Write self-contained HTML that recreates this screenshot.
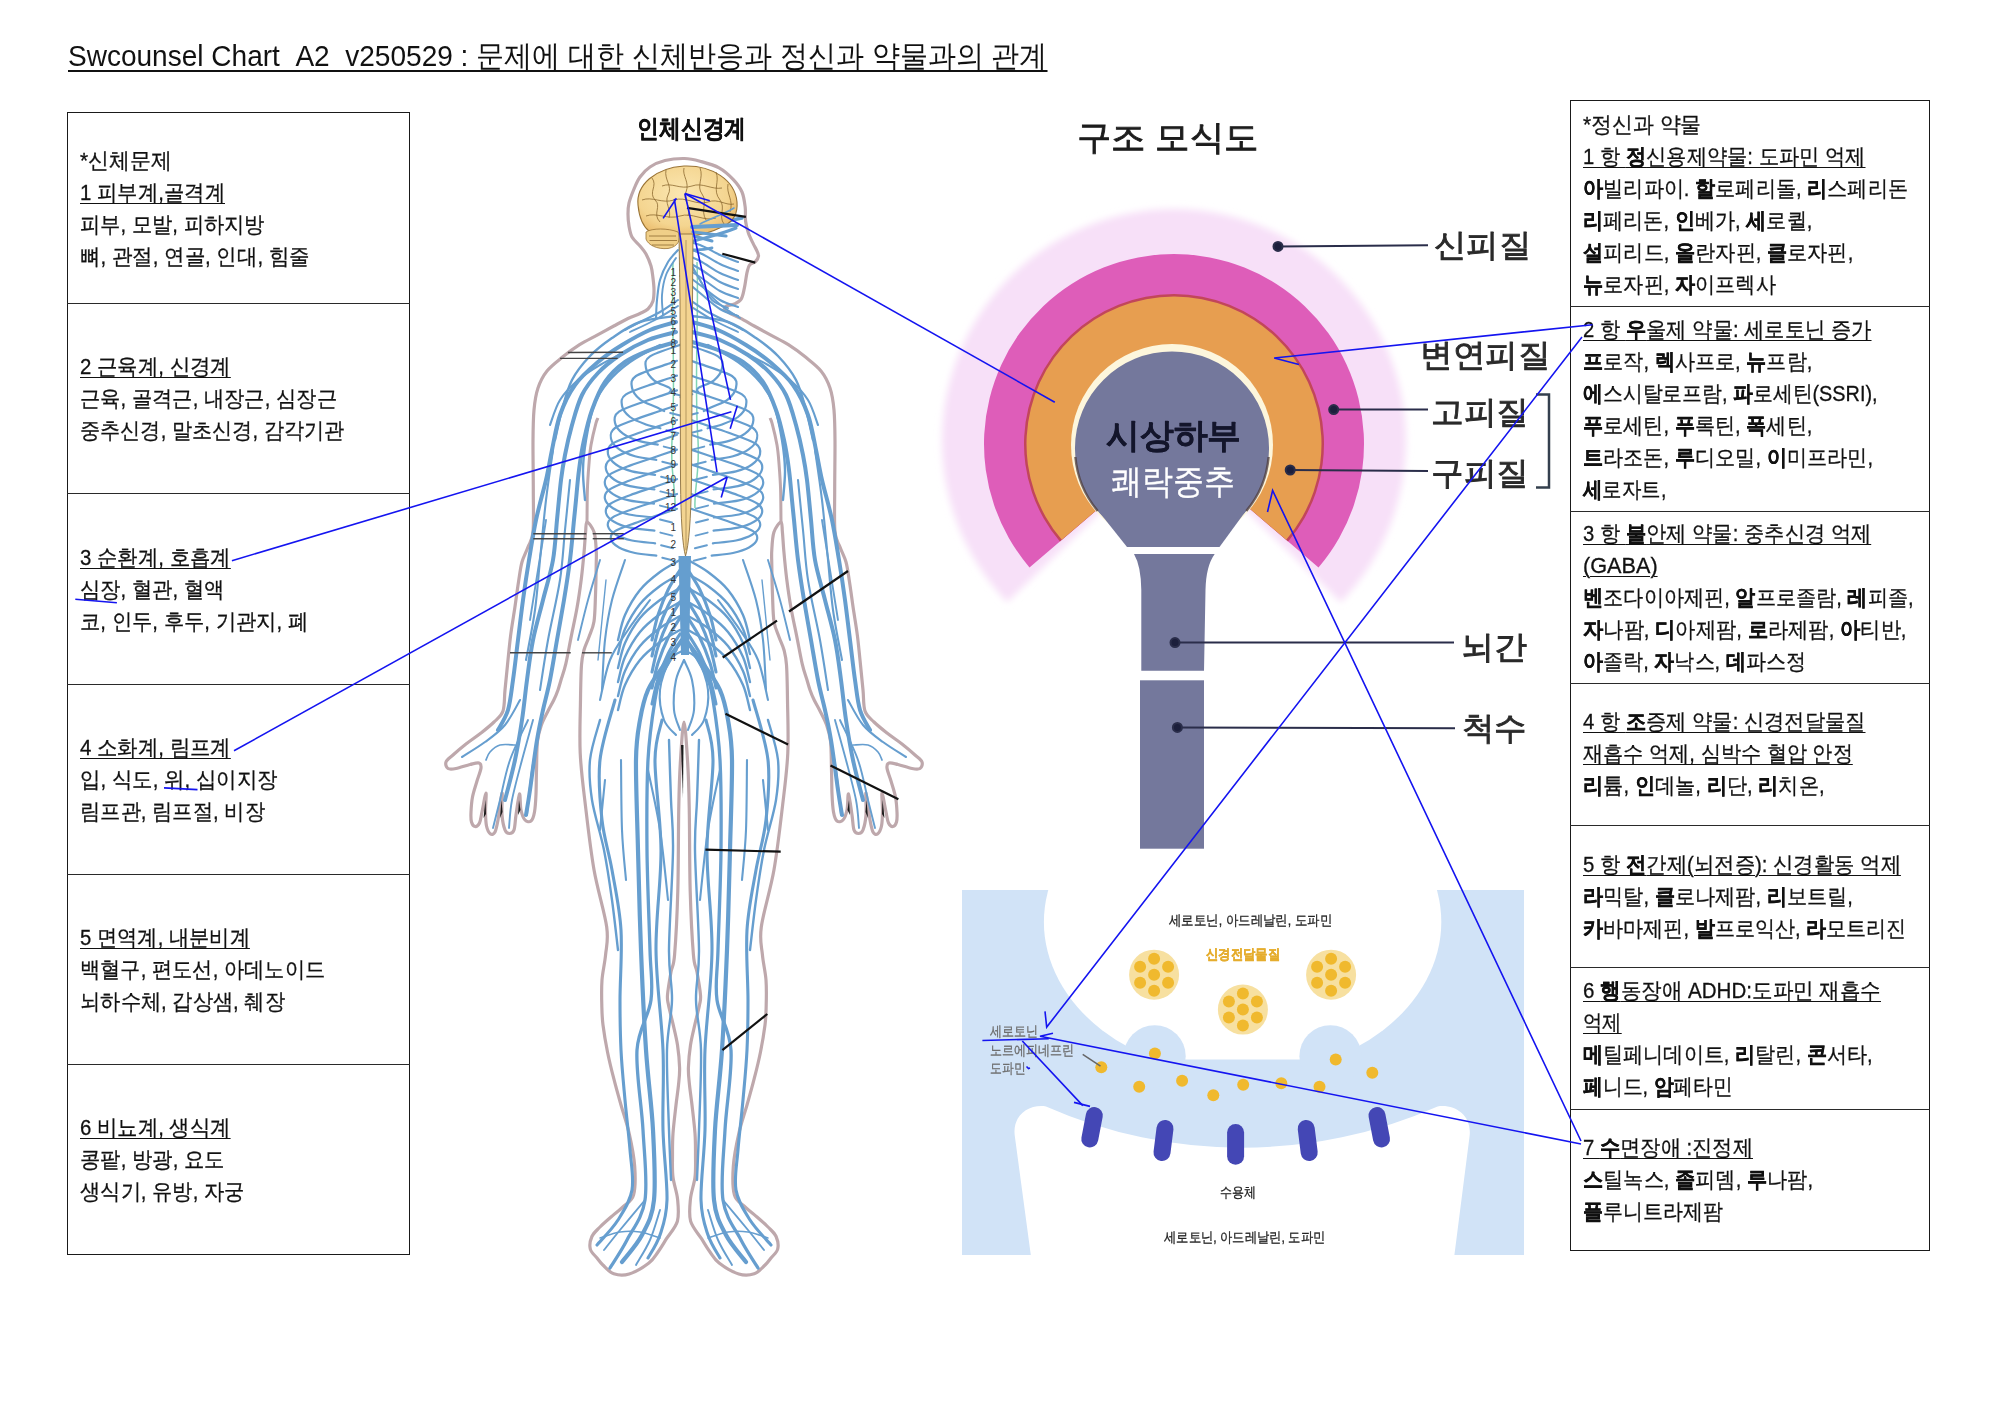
<!DOCTYPE html>
<html><head><meta charset="utf-8"><title>Swcounsel Chart</title>
<style>
html,body{margin:0;padding:0;background:#fff}
body{width:2000px;height:1414px;position:relative;overflow:hidden;font-family:"Liberation Sans",sans-serif;color:#111}
.t{position:absolute;white-space:nowrap;transform-origin:0 50%;-webkit-text-stroke:0.3px currentColor}
.t b{font-weight:bold}
.u{text-decoration:underline;text-decoration-thickness:1px;text-underline-offset:3px}
.t.k{-webkit-text-stroke:0.9px currentColor}
.t.ti{-webkit-text-stroke:0;text-decoration-thickness:2px;text-underline-offset:4px}
.bx{position:absolute;border:1.4px solid #1a1a1a;box-sizing:border-box}
.hl{position:absolute;height:0;border-top:1.4px solid #2a2a2a}
svg{position:absolute;left:0;top:0}
</style></head><body>
<div class="bx" style="left:67px;top:112px;width:343px;height:1143px"></div>
<div class="hl" style="left:67px;top:302.5px;width:343px"></div>
<div class="hl" style="left:67px;top:492.5px;width:343px"></div>
<div class="hl" style="left:67px;top:683.5px;width:343px"></div>
<div class="hl" style="left:67px;top:873.5px;width:343px"></div>
<div class="hl" style="left:67px;top:1063.5px;width:343px"></div>
<div class="bx" style="left:1570px;top:100px;width:360px;height:1151px"></div>
<div class="hl" style="left:1570px;top:305.5px;width:360px"></div>
<div class="hl" style="left:1570px;top:510.5px;width:360px"></div>
<div class="hl" style="left:1570px;top:682.5px;width:360px"></div>
<div class="hl" style="left:1570px;top:824.5px;width:360px"></div>
<div class="hl" style="left:1570px;top:966.5px;width:360px"></div>
<div class="hl" style="left:1570px;top:1108.5px;width:360px"></div>
<svg width="2000" height="1414" viewBox="0 0 2000 1414">
<defs>
<filter id="blur6" x="-20%" y="-20%" width="140%" height="140%"><feGaussianBlur stdDeviation="3.5"/></filter>
<clipPath id="synclip"><rect x="962" y="890" width="562" height="169.5" rx="0"/></clipPath>
</defs>
<!-- body -->
<path d="M684.5,158.5C678.7,158.4 670.8,159.1 665,160.5C659.2,161.9 654.2,164.2 650,167C645.8,169.8 642.7,173.3 640,177C637.3,180.7 635.8,184.7 634,189C632.2,193.3 630,198.8 629,203C628,207.2 628,210.2 628,214C628,217.8 628.3,222.2 629,226C629.7,229.8 630.2,233.7 632,237C633.8,240.3 637.7,243.2 640,246C642.3,248.8 644.2,250.7 646,254C647.8,257.3 649.8,262 651,266C652.2,270 652.5,274 653,278C653.5,282 654,286.2 654,290C654,293.8 654,297.8 653,301C652,304.2 650.2,306.9 648,309C645.8,311.1 643.3,311.9 640,313.5C636.7,315.1 632.4,316.4 628,318.5C623.6,320.6 619,323.2 613.8,326C608.6,328.8 602.4,332.3 596.7,335.4C591,338.5 585.3,341.1 579.6,344.7C573.9,348.3 567.9,352.7 562.5,357.1C557.1,361.5 551.1,365.9 547,371C542.9,376.1 540.2,381.5 538,388C535.8,394.5 534.8,401.2 534,410C533.2,418.8 533.1,427.7 533,441C532.9,454.3 533.3,474.8 533.3,490C533.3,505.2 533.9,522.5 533,532C532.1,541.5 529.8,542 528,547C526.2,552 523.6,556.2 522,562C520.4,567.8 519.7,574.5 518.5,582C517.3,589.5 516.2,598.4 514.9,607.3C513.6,616.2 511.8,626 510.6,635.6C509.4,645.2 508.4,655.9 507.5,665C506.6,674.1 505.8,682.3 505,690C504.2,697.7 504.8,705.7 503,711C501.2,716.3 497.7,718.3 494,722C490.3,725.7 485.7,729.3 481,733C476.3,736.7 470.7,740.3 466,744C461.3,747.7 456.3,752 453,755C449.7,758 446.8,759.8 446,762C445.2,764.2 446.3,767.4 448,768.5C449.7,769.6 452.3,769.2 456,768.5C459.7,767.8 466.2,765.4 470,764.5C473.8,763.6 477.2,762.4 479,763C480.8,763.6 481.3,765 481,768C480.7,771 478.4,776.2 477,781C475.6,785.8 473.5,791.8 472.5,797C471.5,802.2 471.2,807.8 471,812C470.8,816.2 470.8,819.6 471.5,822C472.2,824.4 473.7,826.3 475,826.5C476.3,826.7 478.3,825.4 479.5,823C480.7,820.6 480.9,817 482,812C483.1,807 485.4,793 486,793C486.6,793 485.4,806.5 485.5,812C485.6,817.5 485.7,822.3 486.5,826C487.3,829.7 489.1,833 490.5,834C491.9,835 493.8,834.3 495,832C496.2,829.7 496.8,826.5 498,820C499.2,813.5 501.3,793.8 502,793C502.7,792.2 501.5,808.8 502,815C502.5,821.2 503.8,826.9 505,830C506.2,833.1 508,833.5 509.5,833.5C511,833.5 512.9,833.1 514,830C515.1,826.9 515.1,821 516,815C516.9,809 518.7,794.8 519.5,794C520.3,793.2 520.1,805.7 521,810C521.9,814.3 523.3,818.2 525,820C526.7,821.8 529.4,822.3 531,821C532.6,819.7 533.7,816.5 534.5,812C535.3,807.5 535.7,801 536,794C536.3,787 536.2,778.8 536.5,770C536.8,761.2 536.6,748.6 537.5,741C538.4,733.4 539.9,729.5 541.6,724.5C543.4,719.5 546,715 548,711C550,707 552,703.8 553.7,700.3C555.4,696.8 556.8,693.4 558,690C559.2,686.6 559.7,684.4 561,680C562.3,675.6 564.1,671.3 565.8,663.9C567.5,656.5 569.5,645 571.4,635.6C573.3,626.2 575.5,616.7 577.1,607.3C578.8,597.9 580.1,588.4 581.3,579C582.5,569.6 583.5,558.5 584.2,550.7C584.9,542.9 585.1,536.8 585.6,532C586.1,527.2 585.6,522 587,522C588.4,522 592.6,527.6 594.1,532.3C595.6,537 595.9,544.5 596.2,550C596.6,555.5 596.3,557.5 596.2,565C596.1,572.5 595.9,585.6 595.5,595C595.1,604.4 595.1,614.4 594,621.4C592.9,628.4 590.7,632.2 589,637C587.3,641.8 585.2,645.3 584,650C582.8,654.7 582.1,656.7 581.5,665C580.9,673.3 580.7,685.3 580.5,700C580.3,714.7 579.4,735.3 580.2,753C581,770.7 583.2,786.6 585.5,806.1C587.8,825.6 590.5,849.6 594,869.8C597.5,889.9 604.8,912.9 606.7,927C608.6,941.1 606.4,945.8 605.6,954.6C604.8,963.4 602.6,971.6 602,980C601.4,988.4 601.6,997.5 601.8,1005C602,1012.5 602,1017.2 603,1025C604,1032.8 605.7,1043 607.5,1052C609.3,1061 611.5,1069.9 613.8,1078.7C616,1087.5 618.4,1095.9 621,1105C623.6,1114.1 626.9,1123.3 629.2,1133.5C631.5,1143.7 634,1156.2 634.7,1166.4C635.4,1176.6 635.4,1188.3 633.6,1194.9C631.8,1201.5 627.3,1202.7 624,1206C620.7,1209.3 617.8,1211.1 613.8,1214.6C609.8,1218.1 603.6,1223.3 600,1227C596.4,1230.7 593.5,1232.8 591.9,1236.5C590.3,1240.2 589.4,1245.4 590.3,1249C591.1,1252.6 594.9,1255.3 597,1258C599.1,1260.7 600.1,1262.4 602.9,1265C605.7,1267.6 609.4,1272.3 613.8,1273.8C618.2,1275.3 623.4,1275.8 629.2,1274C635.1,1272.2 644.1,1266.7 648.9,1263C653.7,1259.3 655.1,1256 658,1252C660.9,1248 663.3,1243.8 666.5,1238.7C669.7,1233.6 675.5,1227.8 677.4,1221.2C679.2,1214.6 678.3,1206.6 677.6,1199.3C676.9,1192 673.9,1184.7 673,1177.3C672.1,1169.9 672.5,1162.3 672.5,1155C672.5,1147.7 672.4,1141.8 673,1133.5C673.6,1125.2 675.1,1113.1 676,1105C676.9,1096.9 677.9,1091.2 678.5,1085C679.1,1078.8 679.8,1074.4 679.6,1067.7C679.4,1061 678.6,1052.3 677.5,1045C676.4,1037.7 674.5,1030.6 673,1023.9C671.5,1017.2 669.4,1009.8 668.5,1005C667.6,1000.2 667.1,1000.5 667.5,995C667.9,989.5 669.8,978.7 671,972C672.2,965.3 673.5,968.1 674.6,954.6C675.7,941.1 677.1,915.8 677.8,891C678.5,866.2 678.3,827.9 678.8,806.1C679.2,784.3 679.6,774 680.5,760C681.4,746 682.8,722 684,722C685.2,722 686.6,746 687.5,760C688.4,774 688.8,784.3 689.2,806.1C689.7,827.9 689.5,866.2 690.2,891C690.9,915.8 692.3,941.1 693.4,954.6C694.5,968.1 695.8,965.3 697,972C698.2,978.7 700.1,989.5 700.5,995C700.9,1000.5 700.4,1000.2 699.5,1005C698.6,1009.8 696.5,1017.2 695,1023.9C693.5,1030.6 691.6,1037.7 690.5,1045C689.4,1052.3 688.6,1061 688.4,1067.7C688.2,1074.4 688.9,1078.8 689.5,1085C690.1,1091.2 691.1,1096.9 692,1105C692.9,1113.1 694.4,1125.2 695,1133.5C695.6,1141.8 695.5,1147.7 695.5,1155C695.5,1162.3 695.9,1169.9 695,1177.3C694.1,1184.7 691.1,1192 690.4,1199.3C689.7,1206.6 688.8,1214.6 690.6,1221.2C692.5,1227.8 698.3,1233.6 701.5,1238.7C704.7,1243.8 707.1,1248 710,1252C712.9,1256 714.3,1259.3 719.1,1263C723.9,1266.7 732.9,1272.2 738.8,1274C744.6,1275.8 749.8,1275.3 754.2,1273.8C758.6,1272.3 762.3,1267.6 765.1,1265C767.9,1262.4 768.9,1260.7 771,1258C773.1,1255.3 776.9,1252.6 777.7,1249C778.6,1245.4 777.7,1240.2 776.1,1236.5C774.5,1232.8 771.6,1230.7 768,1227C764.4,1223.3 758.2,1218.1 754.2,1214.6C750.2,1211.1 747.3,1209.3 744,1206C740.7,1202.7 736.2,1201.5 734.4,1194.9C732.6,1188.3 732.6,1176.6 733.3,1166.4C734,1156.2 736.5,1143.7 738.8,1133.5C741.1,1123.3 744.4,1114.1 747,1105C749.6,1095.9 752,1087.5 754.2,1078.7C756.5,1069.9 758.7,1061 760.5,1052C762.3,1043 764,1032.8 765,1025C766,1017.2 766,1012.5 766.2,1005C766.4,997.5 766.6,988.4 766,980C765.4,971.6 763.2,963.4 762.4,954.6C761.6,945.8 759.4,941.1 761.3,927C763.2,912.9 770.5,889.9 774,869.8C777.5,849.6 780.2,825.6 782.5,806.1C784.8,786.6 787,770.7 787.8,753C788.6,735.3 787.7,714.7 787.5,700C787.3,685.3 787.1,673.3 786.5,665C785.9,656.7 785.2,654.7 784,650C782.8,645.3 780.7,641.8 779,637C777.3,632.2 775.1,628.4 774,621.4C772.9,614.4 772.9,604.4 772.5,595C772.1,585.6 771.9,572.5 771.8,565C771.7,557.5 771.4,555.5 771.8,550C772.1,544.5 772.4,537 773.9,532.3C775.4,527.6 779.6,522 781,522C782.4,522 781.9,527.2 782.4,532C782.9,536.8 783.1,542.9 783.8,550.7C784.5,558.5 785.5,569.6 786.7,579C787.9,588.4 789.2,597.9 790.9,607.3C792.5,616.7 794.7,626.2 796.6,635.6C798.5,645 800.5,656.5 802.2,663.9C803.9,671.3 805.7,675.6 807,680C808.3,684.4 808.8,686.6 810,690C811.2,693.4 812.6,696.8 814.3,700.3C816,703.8 818,707 820,711C822,715 824.6,719.5 826.4,724.5C828.1,729.5 829.6,733.4 830.5,741C831.4,748.6 831.2,761.2 831.5,770C831.8,778.8 831.7,787 832,794C832.3,801 832.7,807.5 833.5,812C834.3,816.5 835.4,819.7 837,821C838.6,822.3 841.3,821.8 843,820C844.7,818.2 846.1,814.3 847,810C847.9,805.7 847.7,793.2 848.5,794C849.3,794.8 851.1,809 852,815C852.9,821 852.9,826.9 854,830C855.1,833.1 857,833.5 858.5,833.5C860,833.5 861.8,833.1 863,830C864.2,826.9 865.5,821.2 866,815C866.5,808.8 865.3,792.2 866,793C866.7,793.8 868.8,813.5 870,820C871.2,826.5 871.8,829.7 873,832C874.2,834.3 876.1,835 877.5,834C878.9,833 880.7,829.7 881.5,826C882.3,822.3 882.4,817.5 882.5,812C882.6,806.5 881.4,793 882,793C882.6,793 884.9,807 886,812C887.1,817 887.3,820.6 888.5,823C889.7,825.4 891.7,826.7 893,826.5C894.3,826.3 895.8,824.4 896.5,822C897.2,819.6 897.2,816.2 897,812C896.8,807.8 896.5,802.2 895.5,797C894.5,791.8 892.4,785.8 891,781C889.6,776.2 887.3,771 887,768C886.7,765 887.2,763.6 889,763C890.8,762.4 894.2,763.6 898,764.5C901.8,765.4 908.3,767.8 912,768.5C915.7,769.2 918.3,769.6 920,768.5C921.7,767.4 922.8,764.2 922,762C921.2,759.8 918.3,758 915,755C911.7,752 906.7,747.7 902,744C897.3,740.3 891.7,736.7 887,733C882.3,729.3 877.7,725.7 874,722C870.3,718.3 866.8,716.3 865,711C863.2,705.7 863.8,697.7 863,690C862.2,682.3 861.4,674.1 860.5,665C859.6,655.9 858.6,645.2 857.4,635.6C856.2,626 854.4,616.2 853.1,607.3C851.8,598.4 850.7,589.5 849.5,582C848.3,574.5 847.6,567.8 846,562C844.4,556.2 841.8,552 840,547C838.2,542 835.9,541.5 835,532C834.1,522.5 834.7,505.2 834.7,490C834.7,474.8 835.1,454.3 835,441C834.9,427.7 834.8,418.8 834,410C833.2,401.2 832.2,394.5 830,388C827.8,381.5 825.1,376.1 821,371C816.9,365.9 810.9,361.5 805.5,357.1C800.1,352.7 794.1,348.3 788.4,344.7C782.7,341.1 777,338.5 771.3,335.4C765.6,332.3 759.4,328.9 754.2,326C749,323.1 744.4,320.4 740.2,318.2C736.1,316 731.9,314.4 729.3,312.8C726.7,311.2 724.9,309.7 724.5,308.5C724.1,307.3 725.4,306.6 727,305.8C728.6,305.1 732,305.1 734.4,304C736.8,302.9 739.6,301.7 741.3,298.9C743,296.1 743.5,291.9 744.5,287.4C745.5,282.9 746.2,275.8 747.1,272.1C748,268.4 748.2,266.8 749.6,265C751,263.2 754,263 755.5,261.5C757,260 758.3,257.9 758.5,256C758.7,254.1 757.4,252 756.5,250C755.6,248 754.8,247 753.4,244.1C752,241.2 749.6,236.5 748.3,232.7C747,228.9 746.1,225.4 745.6,221.2C745.1,217 745.8,212.2 745.2,207.3C744.6,202.4 744,196.7 742,192C740,187.3 736.9,183.3 733.1,179.3C729.3,175.3 724.6,170.8 719.1,167.8C713.6,164.8 705.8,162.8 700,161.2C694.2,159.6 690.3,158.6 684.5,158.5Z" fill="#fff" stroke="#bea8ac" stroke-width="3.2" stroke-linejoin="round"/>
<path d="M598,418C597.6,418.9 597.1,418.8 595.9,423.3C594.7,427.8 592.2,438.1 591,445C589.8,451.9 589.5,457.5 588.9,465C588.3,472.5 587.7,480.5 587.4,490C587.1,499.5 587.1,516.7 587,522 M770,418C770.4,418.9 770.9,418.8 772.1,423.3C773.3,427.8 775.8,438.1 777,445C778.2,451.9 778.5,457.5 779.1,465C779.7,472.5 780.3,480.5 780.6,490C780.9,499.5 780.9,516.7 781,522" fill="none" stroke="#bea8ac" stroke-width="3"/>
<g fill="none" stroke="#80d4b4" stroke-width="1.5"><path d="M673,262 C671,320 676,380 672,440 C670,470 676,490 675,508"/><path d="M697,262 C699,320 694,380 698,440 C700,470 694,490 695,508"/></g>
<g fill="none" stroke="#669ecf" stroke-linecap="round">
<path d="M676,322C671.7,323.3 659,326.2 650,330C641,333.8 630.7,339.7 622,345C613.3,350.3 605.8,355.3 598,362C590.2,368.7 581.3,376.2 575,385C568.7,393.8 563.8,404.2 560,415C556.2,425.8 554.3,439.2 552,450C549.7,460.8 548.7,468.3 546,480C543.3,491.7 538.8,506.7 536,520C533.2,533.3 531.2,546.7 529,560C526.8,573.3 524.8,586.7 523,600C521.2,613.3 519.7,626.7 518,640C516.3,653.3 514.7,668.3 513,680C511.3,691.7 510.5,701.7 508,710C505.5,718.3 499.7,726.7 498,730" stroke-width="4"/>
<path d="M692,322C696.3,323.3 709,326.2 718,330C727,333.8 737.3,339.7 746,345C754.7,350.3 762.2,355.3 770,362C777.8,368.7 786.7,376.2 793,385C799.3,393.8 804.2,404.2 808,415C811.8,425.8 813.7,439.2 816,450C818.3,460.8 819.3,468.3 822,480C824.7,491.7 829.2,506.7 832,520C834.8,533.3 836.8,546.7 839,560C841.2,573.3 843.2,586.7 845,600C846.8,613.3 848.3,626.7 850,640C851.7,653.3 853.3,668.3 855,680C856.7,691.7 857.5,701.7 860,710C862.5,718.3 868.3,726.7 870,730" stroke-width="4"/>
<path d="M676,332C671.3,333.3 657.3,336.2 648,340C638.7,343.8 628.3,349.5 620,355C611.7,360.5 604.3,366.3 598,373C591.7,379.7 586.3,386.3 582,395C577.7,403.7 574.8,415 572,425C569.2,435 566.8,445.8 565,455C563.2,464.2 562.3,469.2 561,480C559.7,490.8 558.3,506.7 557,520C555.7,533.3 555.3,546.7 553,560C550.7,573.3 546.3,586.7 543,600C539.7,613.3 535.7,626.7 533,640C530.3,653.3 528.8,666.7 527,680C525.2,693.3 524,706.7 522,720C520,733.3 517.8,746.7 515,760C512.2,773.3 506.7,793.3 505,800" stroke-width="4"/>
<path d="M692,332C696.7,333.3 710.7,336.2 720,340C729.3,343.8 739.7,349.5 748,355C756.3,360.5 763.7,366.3 770,373C776.3,379.7 781.7,386.3 786,395C790.3,403.7 793.2,415 796,425C798.8,435 801.2,445.8 803,455C804.8,464.2 805.7,469.2 807,480C808.3,490.8 809.7,506.7 811,520C812.3,533.3 812.7,546.7 815,560C817.3,573.3 821.7,586.7 825,600C828.3,613.3 832.3,626.7 835,640C837.7,653.3 839.2,666.7 841,680C842.8,693.3 844,706.7 846,720C848,733.3 850.2,746.7 853,760C855.8,773.3 861.3,793.3 863,800" stroke-width="4"/>
<path d="M676,342C671.7,343.3 658.5,346.7 650,350C641.5,353.3 632.5,356.7 625,362C617.5,367.3 610.5,374 605,382C599.5,390 595.5,400.3 592,410C588.5,419.7 586.2,430 584,440C581.8,450 580.3,460 579,470C577.7,480 576.8,491.7 576,500C575.2,508.3 575,510 574,520C573,530 571.7,546.7 570,560C568.3,573.3 566.2,586.7 564,600C561.8,613.3 559.3,626.7 557,640C554.7,653.3 552.3,668.3 550,680C547.7,691.7 545.2,700 543,710C540.8,720 539.2,726.7 537,740C534.8,753.3 531.8,777.5 530,790C528.2,802.5 526.7,810.8 526,815" stroke-width="4"/>
<path d="M692,342C696.3,343.3 709.5,346.7 718,350C726.5,353.3 735.5,356.7 743,362C750.5,367.3 757.5,374 763,382C768.5,390 772.5,400.3 776,410C779.5,419.7 781.8,430 784,440C786.2,450 787.7,460 789,470C790.3,480 791.2,491.7 792,500C792.8,508.3 793,510 794,520C795,530 796.3,546.7 798,560C799.7,573.3 801.8,586.7 804,600C806.2,613.3 808.7,626.7 811,640C813.3,653.3 815.7,668.3 818,680C820.3,691.7 822.8,700 825,710C827.2,720 828.8,726.7 831,740C833.2,753.3 836.2,777.5 838,790C839.8,802.5 841.3,810.8 842,815" stroke-width="4"/>
<path d="M676,316C670,317 650.7,318.3 640,322C629.3,325.7 620.3,332.3 612,338C603.7,343.7 596.7,349 590,356C583.3,363 576.7,371 572,380C567.3,389 564.8,400 562,410C559.2,420 556.2,435 555,440" stroke-width="2.4"/>
<path d="M692,316C698,317 717.3,318.3 728,322C738.7,325.7 747.7,332.3 756,338C764.3,343.7 771.3,349 778,356C784.7,363 791.3,371 796,380C800.7,389 803.2,400 806,410C808.8,420 811.8,435 813,440" stroke-width="2.4"/>
<path d="M660,345C655,347.8 638.7,355.8 630,362C621.3,368.2 614,374.8 608,382C602,389.2 597.7,395.3 594,405C590.3,414.7 587.8,429.2 586,440C584.2,450.8 583.2,460 583,470C582.8,480 584.7,495 585,500" stroke-width="2.4"/>
<path d="M708,345C713,347.8 729.3,355.8 738,362C746.7,368.2 754,374.8 760,382C766,389.2 770.3,395.3 774,405C777.7,414.7 780.2,429.2 782,440C783.8,450.8 784.8,460 785,470C785.2,480 783.3,495 783,500" stroke-width="2.4"/>
<path d="M553,450C551.8,458.3 548.2,481.7 546,500C543.8,518.3 541.8,541.7 540,560C538.2,578.3 537.3,593.3 535,610C532.7,626.7 527.5,651.7 526,660" stroke-width="2.1"/>
<path d="M815,450C816.2,458.3 819.8,481.7 822,500C824.2,518.3 826.2,541.7 828,560C829.8,578.3 830.7,593.3 833,610C835.3,626.7 840.5,651.7 842,660" stroke-width="2.1"/>
<path d="M570,480C569.2,488.3 566.7,513.3 565,530C563.3,546.7 562.8,561.7 560,580C557.2,598.3 551.3,621.7 548,640C544.7,658.3 541.3,681.7 540,690" stroke-width="2.1"/>
<path d="M798,480C798.8,488.3 801.3,513.3 803,530C804.7,546.7 805.2,561.7 808,580C810.8,598.3 816.7,621.7 820,640C823.3,658.3 826.7,681.7 828,690" stroke-width="2.1"/>
<path d="M625,352C620.8,354.2 607.8,360.3 600,365C592.2,369.7 584.7,374.2 578,380C571.3,385.8 564.7,392.5 560,400C555.3,407.5 551.7,420.8 550,425" stroke-width="2.1"/>
<path d="M743,352C747.2,354.2 760.2,360.3 768,365C775.8,369.7 783.3,374.2 790,380C796.7,385.8 803.3,392.5 808,400C812.7,407.5 816.3,420.8 818,425" stroke-width="2.1"/>
<path d="M546,520C544.7,528.3 540.7,553.3 538,570C535.3,586.7 531.3,611.7 530,620" stroke-width="1.9"/>
<path d="M822,520C823.3,528.3 827.3,553.3 830,570C832.7,586.7 836.7,611.7 838,620" stroke-width="1.9"/>
<path d="M520,700C517.5,704.2 510.8,718 505,725C499.2,732 492.2,736.7 485,742C477.8,747.3 465.8,754.5 462,757" stroke-width="2.1"/>
<path d="M848,700C850.5,704.2 857.2,718 863,725C868.8,732 875.8,736.7 883,742C890.2,747.3 902.2,754.5 906,757" stroke-width="2.1"/>
<path d="M528,720C525,726.7 514.7,746.7 510,760C505.3,773.3 502.8,788.7 500,800C497.2,811.3 494.2,823.3 493,828" stroke-width="1.9"/>
<path d="M840,720C843,726.7 853.3,746.7 858,760C862.7,773.3 865.2,788.7 868,800C870.8,811.3 873.8,823.3 875,828" stroke-width="1.9"/>
<path d="M533,720C531.2,726.7 525.5,746.7 522,760C518.5,773.3 514.2,788.7 512,800C509.8,811.3 509.5,823.3 509,828" stroke-width="1.9"/>
<path d="M835,720C836.8,726.7 842.5,746.7 846,760C849.5,773.3 853.8,788.7 856,800C858.2,811.3 858.5,823.3 859,828" stroke-width="1.9"/>
<path d="M540,725C538.7,732.5 534.2,755 532,770C529.8,785 527.8,807.5 527,815" stroke-width="1.9"/>
<path d="M828,725C829.3,732.5 833.8,755 836,770C838.2,785 840.2,807.5 841,815" stroke-width="1.9"/>
<path d="M515,745C512.5,745 504.2,743.8 500,745C495.8,746.2 492.3,749.5 490,752C487.7,754.5 486.7,758.7 486,760" stroke-width="1.7"/>
<path d="M853,745C855.5,745 863.8,743.8 868,745C872.2,746.2 875.7,749.5 878,752C880.3,754.5 881.3,758.7 882,760" stroke-width="1.7"/>
<path d="M600,560C598,566.7 591.7,586.7 588,600C584.3,613.3 579.7,633.3 578,640" stroke-width="1.9"/>
<path d="M768,560C770,566.7 776.3,586.7 780,600C783.7,613.3 788.3,633.3 790,640" stroke-width="1.9"/>
<path d="M677,346C677.4,345.9 678.7,345.4 679.5,345.1C680.3,344.9 686.9,342.4 682,344.3C677.1,346.2 656,352.3 650,356.3C644,360.3 645.3,364.3 646,368.3C646.7,372.3 650,377 654,380.3C658,383.6 667.4,386.3 670,388.3C672.6,390.3 669.6,391.6 669.6,392.3" stroke-width="2.2"/>
<path d="M691,346C690.6,345.9 689.3,345.4 688.5,345.1C687.7,344.9 681.1,342.4 686,344.3C690.9,346.2 712,352.3 718,356.3C724,360.3 722.7,364.3 722,368.3C721.3,372.3 718,377 714,380.3C710,383.6 700.6,386.3 698,388.3C695.4,390.3 698.4,391.6 698.4,392.3" stroke-width="2.2"/>
<path d="M675.6,394.3C677.6,394.8 685.6,396.8 687.6,397.3" stroke-width="2"/>
<path d="M692.4,394.3C690.4,394.8 682.4,396.8 680.4,397.3" stroke-width="2"/>
<path d="M677,360.8C676.1,361.1 673.5,362 671.8,362.6C670,363.2 672.5,362.1 666.5,364.4C660.5,366.6 641.8,372.1 636,376C630.2,379.9 631.3,383.8 632,387.7C632.7,391.6 636,396.1 640,399.3C644,402.6 652,405.1 656,407.1C660,409 662.9,410.3 664.2,411" stroke-width="2.2"/>
<path d="M691,360.8C691.9,361.1 694.5,362 696.2,362.6C698,363.2 695.5,362.1 701.5,364.4C707.5,366.6 726.2,372.1 732,376C737.8,379.9 736.7,383.8 736,387.7C735.3,391.6 732,396.1 728,399.3C724,402.6 716,405.1 712,407.1C708,409 705.1,410.3 703.8,411" stroke-width="2.2"/>
<path d="M670.2,413C672.2,413.5 680.2,415.5 682.2,416" stroke-width="2"/>
<path d="M697.8,413C695.8,413.5 687.8,415.5 685.8,416" stroke-width="2"/>
<path d="M677,375.6C675.2,376.2 669.7,378.1 666,379.3C662.3,380.6 661.7,380.6 655,383.1C648.3,385.6 631.5,390.6 626,394.4C620.5,398.1 621.3,401.9 622,405.7C622.7,409.4 626,413.8 630,417C634,420.1 640.9,422.6 646,424.5C651.1,426.4 658,427.7 660.4,428.3" stroke-width="2.2"/>
<path d="M691,375.6C692.8,376.2 698.3,378.1 702,379.3C705.7,380.6 706.3,380.6 713,383.1C719.7,385.6 736.5,390.6 742,394.4C747.5,398.1 746.7,401.9 746,405.7C745.3,409.4 742,413.8 738,417C734,420.1 727.1,422.6 722,424.5C716.9,426.4 710,427.7 707.6,428.3" stroke-width="2.2"/>
<path d="M666.4,430.3C668.4,430.8 676.4,432.8 678.4,433.3" stroke-width="2"/>
<path d="M701.6,430.3C699.6,430.8 691.6,432.8 689.6,433.3" stroke-width="2"/>
<path d="M677,390.4C674.5,391.3 666.8,393.9 661.8,395.6C656.7,397.3 653.6,398.1 646.5,400.8C639.4,403.5 624.2,408.1 619,411.7C613.8,415.4 614.3,419 615,422.7C615.7,426.3 619,430.6 623,433.6C627,436.7 633.2,439.1 639,440.9C644.8,442.7 654.6,444 657.8,444.6" stroke-width="2.2"/>
<path d="M691,390.4C693.5,391.3 701.2,393.9 706.2,395.6C711.3,397.3 714.4,398.1 721.5,400.8C728.6,403.5 743.8,408.1 749,411.7C754.2,415.4 753.7,419 753,422.7C752.3,426.3 749,430.6 745,433.6C741,436.7 734.8,439.1 729,440.9C723.2,442.7 713.4,444 710.2,444.6" stroke-width="2.2"/>
<path d="M663.8,446.6C665.8,447.1 673.8,449.1 675.8,449.6" stroke-width="2"/>
<path d="M704.2,446.6C702.2,447.1 694.2,449.1 692.2,449.6" stroke-width="2"/>
<path d="M677,405.2C674,406.2 665,409.3 659,411.3C653,413.4 648.3,414.7 641,417.4C633.7,420.2 620,424.5 615,428C610,431.6 610.3,435.1 611,438.6C611.7,442.2 615,446.3 619,449.2C623,452.2 628.8,454.5 635,456.3C641.2,458.1 652.7,459.3 656.3,459.8" stroke-width="2.2"/>
<path d="M691,405.2C694,406.2 703,409.3 709,411.3C715,413.4 719.7,414.7 727,417.4C734.3,420.2 748,424.5 753,428C758,431.6 757.7,435.1 757,438.6C756.3,442.2 753,446.3 749,449.2C745,452.2 739.2,454.5 733,456.3C726.8,458.1 715.3,459.3 711.7,459.8" stroke-width="2.2"/>
<path d="M662.3,461.8C664.3,462.3 672.3,464.3 674.3,464.8" stroke-width="2"/>
<path d="M705.7,461.8C703.7,462.3 695.7,464.3 693.7,464.8" stroke-width="2"/>
<path d="M677,420C673.6,421.1 663.5,424.6 656.8,426.9C650,429.2 644,430.9 636.5,433.8C629,436.6 616.8,440.6 612,444C607.2,447.4 607.3,450.9 608,454.3C608.7,457.7 612,461.7 616,464.5C620,467.4 625.5,469.6 632,471.4C638.5,473.1 651.3,474.2 655.1,474.8" stroke-width="2.2"/>
<path d="M691,420C694.4,421.1 704.5,424.6 711.2,426.9C718,429.2 724,430.9 731.5,433.8C739,436.6 751.2,440.6 756,444C760.8,447.4 760.7,450.9 760,454.3C759.3,457.7 756,461.7 752,464.5C748,467.4 742.5,469.6 736,471.4C729.5,473.1 716.7,474.2 712.9,474.8" stroke-width="2.2"/>
<path d="M661.1,476.8C663.1,477.3 671.1,479.3 673.1,479.8" stroke-width="2"/>
<path d="M706.9,476.8C704.9,477.3 696.9,479.3 694.9,479.8" stroke-width="2"/>
<path d="M677,434.8C673.3,436 662.3,439.8 655,442.3C647.7,444.8 640.5,446.9 633,449.8C625.5,452.7 614.5,456.4 610,459.7C605.5,463 605.3,466.3 606,469.6C606.7,472.9 610,476.7 614,479.5C618,482.2 623.3,484.4 630,486.1C636.7,487.7 650.3,488.8 654.4,489.4" stroke-width="2.2"/>
<path d="M691,434.8C694.7,436 705.7,439.8 713,442.3C720.3,444.8 727.5,446.9 735,449.8C742.5,452.7 753.5,456.4 758,459.7C762.5,463 762.7,466.3 762,469.6C761.3,472.9 758,476.7 754,479.5C750,482.2 744.7,484.4 738,486.1C731.3,487.7 717.7,488.8 713.6,489.4" stroke-width="2.2"/>
<path d="M660.4,491.4C662.4,491.9 670.4,493.9 672.4,494.4" stroke-width="2"/>
<path d="M707.6,491.4C705.6,491.9 697.6,493.9 695.6,494.4" stroke-width="2"/>
<path d="M677,449.6C673.1,450.9 661.5,454.9 653.8,457.5C646,460.1 638,462.5 630.5,465.4C623,468.3 613.2,471.8 609,475C604.8,478.1 604.3,481.3 605,484.5C605.7,487.7 609,491.4 613,494.1C617,496.7 622.2,498.8 629,500.4C635.8,502 649.8,503.1 654,503.6" stroke-width="2.2"/>
<path d="M691,449.6C694.9,450.9 706.5,454.9 714.2,457.5C722,460.1 730,462.5 737.5,465.4C745,468.3 754.8,471.8 759,475C763.2,478.1 763.7,481.3 763,484.5C762.3,487.7 759,491.4 755,494.1C751,496.7 745.8,498.8 739,500.4C732.2,502 718.2,503.1 714,503.6" stroke-width="2.2"/>
<path d="M660,505.6C662,506.1 670,508.1 672,508.6" stroke-width="2"/>
<path d="M708,505.6C706,506.1 698,508.1 696,508.6" stroke-width="2"/>
<path d="M677,464.4C673,465.8 661,469.8 653,472.6C645,475.3 636.3,477.8 629,480.7C621.7,483.6 613,486.9 609,489.9C605,493 604.3,496.1 605,499.1C605.7,502.2 609,505.8 613,508.3C617,510.9 622.2,512.9 629,514.5C635.8,516 649.8,517 654,517.5" stroke-width="2.2"/>
<path d="M691,464.4C695,465.8 707,469.8 715,472.6C723,475.3 731.7,477.8 739,480.7C746.3,483.6 755,486.9 759,489.9C763,493 763.7,496.1 763,499.1C762.3,502.2 759,505.8 755,508.3C751,510.9 745.8,512.9 739,514.5C732.2,516 718.2,517 714,517.5" stroke-width="2.2"/>
<path d="M660,519.5C662,520 670,522 672,522.5" stroke-width="2"/>
<path d="M708,519.5C706,520 698,522 696,522.5" stroke-width="2"/>
<path d="M677,479.2C673.1,480.5 661.3,484.5 653.5,487.2C645.7,489.9 637.2,492.4 630,495.2C622.8,498 614,501.1 610,504C606,507 605.3,509.9 606,512.9C606.7,515.8 610,519.3 614,521.7C618,524.2 623.3,526.2 630,527.6C636.7,529.1 650.3,530.1 654.4,530.6" stroke-width="2.2"/>
<path d="M691,479.2C694.9,480.5 706.7,484.5 714.5,487.2C722.3,489.9 730.8,492.4 738,495.2C745.2,498 754,501.1 758,504C762,507 762.7,509.9 762,512.9C761.3,515.8 758,519.3 754,521.7C750,524.2 744.7,526.2 738,527.6C731.3,529.1 717.7,530.1 713.6,530.6" stroke-width="2.2"/>
<path d="M660.4,532.6C662.4,533.1 670.4,535.1 672.4,535.6" stroke-width="2"/>
<path d="M707.6,532.6C705.6,533.1 697.6,535.1 695.6,535.6" stroke-width="2"/>
<path d="M677,494C673.2,495.3 662,499.1 654.5,501.6C647,504.2 639.1,506.6 632,509.3C624.9,512 616,515 612,517.8C608,520.6 607.3,523.5 608,526.3C608.7,529.1 612,532.4 616,534.8C620,537.2 625.5,539.1 632,540.5C638.5,541.9 651.3,542.8 655.1,543.3" stroke-width="2.2"/>
<path d="M691,494C694.8,495.3 706,499.1 713.5,501.6C721,504.2 728.9,506.6 736,509.3C743.1,512 752,515 756,517.8C760,520.6 760.7,523.5 760,526.3C759.3,529.1 756,532.4 752,534.8C748,537.2 742.5,539.1 736,540.5C729.5,541.9 716.7,542.8 712.9,543.3" stroke-width="2.2"/>
<path d="M661.1,545.3C663.1,545.8 671.1,547.8 673.1,548.3" stroke-width="2"/>
<path d="M706.9,545.3C704.9,545.8 696.9,547.8 694.9,548.3" stroke-width="2"/>
<path d="M677,508.8C673.5,510 663,513.6 656,515.9C649,518.3 641.8,520.5 635,523.1C628.2,525.6 619,528.5 615,531.2C611,533.9 610.3,536.7 611,539.4C611.7,542.1 615,545.3 619,547.5C623,549.8 628.8,551.6 635,553C641.2,554.3 652.7,555.2 656.3,555.7" stroke-width="2.2"/>
<path d="M691,508.8C694.5,510 705,513.6 712,515.9C719,518.3 726.2,520.5 733,523.1C739.8,525.6 749,528.5 753,531.2C757,533.9 757.7,536.7 757,539.4C756.3,542.1 753,545.3 749,547.5C745,549.8 739.2,551.6 733,553C726.8,554.3 715.3,555.2 711.7,555.7" stroke-width="2.2"/>
<path d="M662.3,557.7C664.3,558.2 672.3,560.2 674.3,560.7" stroke-width="2"/>
<path d="M705.7,557.7C703.7,558.2 695.7,560.2 693.7,560.7" stroke-width="2"/>
<path d="M680,240C683.3,240.8 693.3,242.5 700,245C706.7,247.5 713.7,252.2 720,255C726.3,257.8 735,260.8 738,262" stroke-width="2.1"/>
<path d="M680,246C683.3,247.2 693.3,250 700,253C706.7,256 713.7,261 720,264C726.3,267 735,269.8 738,271" stroke-width="2.1"/>
<path d="M680,252C683.3,253.5 693.3,257.5 700,261C706.7,264.5 713.7,269.8 720,273C726.3,276.2 735,278.8 738,280" stroke-width="2.1"/>
<path d="M680,258C683.3,259.8 693.3,265 700,269C706.7,273 713.7,278.7 720,282C726.3,285.3 735,287.8 738,289" stroke-width="2.1"/>
<path d="M680,264C683.3,266.2 693.3,272.5 700,277C706.7,281.5 713.7,287.5 720,291C726.3,294.5 735,296.8 738,298" stroke-width="2.1"/>
<path d="M680,270C683.3,272.5 693.3,280 700,285C706.7,290 713.7,296.3 720,300C726.3,303.7 735,305.8 738,307" stroke-width="2.1"/>
<path d="M680,276C683.3,278.8 693.3,287.5 700,293C706.7,298.5 713.7,305.2 720,309C726.3,312.8 735,314.8 738,316" stroke-width="2.1"/>
<path d="M682,238C685.8,236.7 697.8,232.7 705,230C712.2,227.3 718.8,224 725,222C731.2,220 739.2,218.7 742,218" stroke-width="3.5"/>
<path d="M682,244C685.8,243 697.8,240 705,238C712.2,236 719.8,233.7 725,232C730.2,230.3 734.2,228.7 736,228" stroke-width="3.1"/>
<path d="M680,248C682.5,248.3 689.7,250 695,250C700.3,250 709.2,248.3 712,248" stroke-width="2.8"/>
<path d="M690,236C694.2,234.3 707.5,230.7 715,226C722.5,221.3 731.7,211 735,208" stroke-width="1.9"/>
<path d="M678,250C676.3,252 671,257 668,262C665,267 661.8,273.7 660,280C658.2,286.3 657.7,293.7 657,300C656.3,306.3 656.2,315 656,318" stroke-width="2.1"/>
<path d="M676,258C674.3,260.8 668.3,268.8 666,275C663.7,281.2 662.5,288.3 662,295C661.5,301.7 662.8,311.7 663,315" stroke-width="1.9"/>
<path d="M686,258C688.3,261.7 695.7,273 700,280C704.3,287 707.3,295.3 712,300C716.7,304.7 725.3,306.7 728,308" stroke-width="1.9"/>
<path d="M690,262C692.7,266.7 700.7,282.7 706,290C711.3,297.3 716.3,301.3 722,306C727.7,310.7 737,316 740,318" stroke-width="1.9"/>
<path d="M678,300C675,302 666.3,308.3 660,312C653.7,315.7 645.8,319 640,322C634.2,325 627.5,328.7 625,330" stroke-width="2.1"/>
<path d="M690,300C693,302 701.7,308.3 708,312C714.3,315.7 722.2,319 728,322C733.8,325 740.5,328.7 743,330" stroke-width="2.1"/>
<path d="M678,306C674.2,308.3 663,315.7 655,320C647,324.3 634.2,330 630,332" stroke-width="1.9"/>
<path d="M690,306C693.8,308.3 705,315.7 713,320C721,324.3 733.8,330 738,332" stroke-width="1.9"/>
<path d="M680,560C676.7,562 666.7,567 660,572C653.3,577 645.8,582.8 640,590C634.2,597.2 628.7,606.7 625,615C621.3,623.3 619.2,635.8 618,640" stroke-width="2.4"/>
<path d="M688,560C691.3,562 701.3,567 708,572C714.7,577 722.2,582.8 728,590C733.8,597.2 739.3,606.7 743,615C746.7,623.3 748.8,635.8 750,640" stroke-width="2.4"/>
<path d="M680,574C676.7,576 666.7,581 660,586C653.3,591 645.8,596.8 640,604C634.2,611.2 628.7,620.7 625,629C621.3,637.3 619.2,649.8 618,654" stroke-width="2.4"/>
<path d="M688,574C691.3,576 701.3,581 708,586C714.7,591 722.2,596.8 728,604C733.8,611.2 739.3,620.7 743,629C746.7,637.3 748.8,649.8 750,654" stroke-width="2.4"/>
<path d="M680,588C676.7,590 666.7,595 660,600C653.3,605 645.8,610.8 640,618C634.2,625.2 628.7,634.7 625,643C621.3,651.3 619.2,663.8 618,668" stroke-width="2.4"/>
<path d="M688,588C691.3,590 701.3,595 708,600C714.7,605 722.2,610.8 728,618C733.8,625.2 739.3,634.7 743,643C746.7,651.3 748.8,663.8 750,668" stroke-width="2.4"/>
<path d="M680,602C676.7,604 666.7,609 660,614C653.3,619 645.8,624.8 640,632C634.2,639.2 628.7,648.7 625,657C621.3,665.3 619.2,677.8 618,682" stroke-width="2.4"/>
<path d="M688,602C691.3,604 701.3,609 708,614C714.7,619 722.2,624.8 728,632C733.8,639.2 739.3,648.7 743,657C746.7,665.3 748.8,677.8 750,682" stroke-width="2.4"/>
<path d="M680,616C676.7,618 666.7,623 660,628C653.3,633 645.8,638.8 640,646C634.2,653.2 628.7,662.7 625,671C621.3,679.3 619.2,691.8 618,696" stroke-width="2.4"/>
<path d="M688,616C691.3,618 701.3,623 708,628C714.7,633 722.2,638.8 728,646C733.8,653.2 739.3,662.7 743,671C746.7,679.3 748.8,691.8 750,696" stroke-width="2.4"/>
<path d="M680,630C676.7,632 666.7,637 660,642C653.3,647 645.8,652.8 640,660C634.2,667.2 628.7,676.7 625,685C621.3,693.3 619.2,705.8 618,710" stroke-width="2.4"/>
<path d="M688,630C691.3,632 701.3,637 708,642C714.7,647 722.2,652.8 728,660C733.8,667.2 739.3,676.7 743,685C746.7,693.3 748.8,705.8 750,710" stroke-width="2.4"/>
<path d="M680,570C678,573.3 671.7,582.5 668,590C664.3,597.5 660.7,606.7 658,615C655.3,623.3 653,635.8 652,640" stroke-width="3.1"/>
<path d="M688,570C690,573.3 696.3,582.5 700,590C703.7,597.5 707.3,606.7 710,615C712.7,623.3 715,635.8 716,640" stroke-width="3.1"/>
<path d="M680,586C678,589.3 671.7,598.5 668,606C664.3,613.5 660.7,622.7 658,631C655.3,639.3 653,651.8 652,656" stroke-width="3.1"/>
<path d="M688,586C690,589.3 696.3,598.5 700,606C703.7,613.5 707.3,622.7 710,631C712.7,639.3 715,651.8 716,656" stroke-width="3.1"/>
<path d="M680,602C678,605.3 671.7,614.5 668,622C664.3,629.5 660.7,638.7 658,647C655.3,655.3 653,667.8 652,672" stroke-width="3.1"/>
<path d="M688,602C690,605.3 696.3,614.5 700,622C703.7,629.5 707.3,638.7 710,647C712.7,655.3 715,667.8 716,672" stroke-width="3.1"/>
<path d="M680,618C678,621.3 671.7,630.5 668,638C664.3,645.5 660.7,654.7 658,663C655.3,671.3 653,683.8 652,688" stroke-width="3.1"/>
<path d="M688,618C690,621.3 696.3,630.5 700,638C703.7,645.5 707.3,654.7 710,663C712.7,671.3 715,683.8 716,688" stroke-width="3.1"/>
<path d="M680,634C678,637.3 671.7,646.5 668,654C664.3,661.5 660.7,670.7 658,679C655.3,687.3 653,699.8 652,704" stroke-width="3.1"/>
<path d="M688,634C690,637.3 696.3,646.5 700,654C703.7,661.5 707.3,670.7 710,679C712.7,687.3 715,699.8 716,704" stroke-width="3.1"/>
<path d="M650,600C646.3,605 634.7,620 628,630C621.3,640 614.7,648.3 610,660C605.3,671.7 601.7,693.3 600,700" stroke-width="2.1"/>
<path d="M718,600C721.7,605 733.3,620 740,630C746.7,640 753.3,648.3 758,660C762.7,671.7 766.3,693.3 768,700" stroke-width="2.1"/>
<path d="M625,560C622.8,566.7 615.3,586.7 612,600C608.7,613.3 606.7,625 605,640C603.3,655 602.5,681.7 602,690" stroke-width="2.1"/>
<path d="M743,560C745.2,566.7 752.7,586.7 756,600C759.3,613.3 761.3,625 763,640C764.7,655 765.5,681.7 766,690" stroke-width="2.1"/>
<path d="M606,580C605.3,586.7 603.3,606.7 602,620C600.7,633.3 598.7,653.3 598,660" stroke-width="1.4"/>
<path d="M762,580C762.7,586.7 764.7,606.7 766,620C767.3,633.3 769.3,653.3 770,660" stroke-width="1.4"/>
<path d="M684,650C681.7,651.7 674,653.3 670,660C666,666.7 661,680 660,690C659,700 661.3,712.5 664,720C666.7,727.5 674,732.5 676,735" stroke-width="2.1"/>
<path d="M684,650C686.3,651.7 694,653.3 698,660C702,666.7 707,680 708,690C709,700 706.7,712.5 704,720C701.3,727.5 694,732.5 692,735" stroke-width="2.1"/>
<path d="M684,660C682.7,663.3 677.7,671.7 676,680C674.3,688.3 673.3,701.7 674,710C674.7,718.3 679,726.7 680,730" stroke-width="2.1"/>
<path d="M684,660C685.3,663.3 690.3,671.7 692,680C693.7,688.3 694.7,701.7 694,710C693.3,718.3 689,726.7 688,730" stroke-width="2.1"/>
<path d="M600,720C598.3,726.7 591.3,746.7 590,760C588.7,773.3 589.7,785 592,800C594.3,815 600.7,833.3 604,850C607.3,866.7 609.7,883.3 612,900C614.3,916.7 617,941.7 618,950" stroke-width="2.4"/>
<path d="M768,720C769.7,726.7 776.7,746.7 778,760C779.3,773.3 778.3,785 776,800C773.7,815 767.3,833.3 764,850C760.7,866.7 758.3,883.3 756,900C753.7,916.7 751,941.7 750,950" stroke-width="2.4"/>
<path d="M615,700C612.5,710 602.2,740 600,760C597.8,780 600,801.7 602,820C604,838.3 608.8,851.7 612,870C615.2,888.3 619.7,908.3 621,930C622.3,951.7 620,980 620,1000C620,1020 620.2,1033.3 621,1050C621.8,1066.7 623.5,1083.3 625,1100C626.5,1116.7 628.8,1135 630,1150C631.2,1165 634,1178.3 632,1190C630,1201.7 623.8,1210.8 618,1220C612.2,1229.2 600.5,1240.8 597,1245" stroke-width="3.1"/>
<path d="M753,700C755.5,710 765.8,740 768,760C770.2,780 768,801.7 766,820C764,838.3 759.2,851.7 756,870C752.8,888.3 748.3,908.3 747,930C745.7,951.7 748,980 748,1000C748,1020 747.8,1033.3 747,1050C746.2,1066.7 744.5,1083.3 743,1100C741.5,1116.7 739.2,1135 738,1150C736.8,1165 734,1178.3 736,1190C738,1201.7 744.2,1210.8 750,1220C755.8,1229.2 767.5,1240.8 771,1245" stroke-width="3.1"/>
<path d="M682,640C679,644.2 669.7,656.7 664,665C658.3,673.3 652,680.8 648,690C644,699.2 642,708.3 640,720C638,731.7 636.3,738.3 636,760C635.7,781.7 637.2,818.3 638,850C638.8,881.7 639.7,916.7 641,950C642.3,983.3 644,1020 646,1050C648,1080 651.7,1105 653,1130C654.3,1155 655.8,1182.5 654,1200C652.2,1217.5 647.3,1224.7 642,1235C636.7,1245.3 625.3,1257.5 622,1262" stroke-width="4.2"/>
<path d="M686,640C689,644.2 698.3,656.7 704,665C709.7,673.3 716,680.8 720,690C724,699.2 726,708.3 728,720C730,731.7 731.7,738.3 732,760C732.3,781.7 730.8,818.3 730,850C729.2,881.7 728.3,916.7 727,950C725.7,983.3 724,1020 722,1050C720,1080 716.3,1105 715,1130C713.7,1155 712.2,1182.5 714,1200C715.8,1217.5 720.7,1224.7 726,1235C731.3,1245.3 742.7,1257.5 746,1262" stroke-width="4.2"/>
<path d="M676,650C673.7,654.2 665.5,666.7 662,675C658.5,683.3 657.3,685.8 655,700C652.7,714.2 649.3,735 648,760C646.7,785 646.7,818.3 647,850C647.3,881.7 649.3,925 650,950C650.7,975 653.2,983.3 651,1000C648.8,1016.7 638.3,1028.3 637,1050C635.7,1071.7 641.7,1105 643,1130C644.3,1155 647.7,1181.7 645,1200C642.3,1218.3 632.8,1228.7 627,1240C621.2,1251.3 612.8,1263.3 610,1268" stroke-width="3.3"/>
<path d="M692,650C694.3,654.2 702.5,666.7 706,675C709.5,683.3 710.7,685.8 713,700C715.3,714.2 718.7,735 720,760C721.3,785 721.3,818.3 721,850C720.7,881.7 718.7,925 718,950C717.3,975 714.8,983.3 717,1000C719.2,1016.7 729.7,1028.3 731,1050C732.3,1071.7 726.3,1105 725,1130C723.7,1155 720.3,1181.7 723,1200C725.7,1218.3 735.2,1228.7 741,1240C746.8,1251.3 755.2,1263.3 758,1268" stroke-width="3.3"/>
<path d="M662,720C660.8,726.7 655.2,738.3 655,760C654.8,781.7 660.8,818.3 661,850C661.2,881.7 655.7,916.7 656,950C656.3,983.3 661.8,1020 663,1050C664.2,1080 662.3,1105 663,1130C663.7,1155 667.5,1182.5 667,1200C666.5,1217.5 663.2,1225.3 660,1235C656.8,1244.7 650,1254.2 648,1258" stroke-width="3.1"/>
<path d="M706,720C707.2,726.7 712.8,738.3 713,760C713.2,781.7 707.2,818.3 707,850C706.8,881.7 712.3,916.7 712,950C711.7,983.3 706.2,1020 705,1050C703.8,1080 705.7,1105 705,1130C704.3,1155 700.5,1182.5 701,1200C701.5,1217.5 704.8,1225.3 708,1235C711.2,1244.7 718,1254.2 720,1258" stroke-width="3.1"/>
<path d="M669,740C669.3,750 670.3,781.7 671,800C671.7,818.3 673.3,825 673,850C672.7,875 669.2,925 669,950C668.8,975 672.3,983.3 672,1000C671.7,1016.7 667.5,1028.3 667,1050C666.5,1071.7 668.3,1108.3 669,1130C669.7,1151.7 670.7,1171.7 671,1180" stroke-width="2.4"/>
<path d="M699,740C698.7,750 697.7,781.7 697,800C696.3,818.3 694.7,825 695,850C695.3,875 698.8,925 699,950C699.2,975 695.7,983.3 696,1000C696.3,1016.7 700.5,1028.3 701,1050C701.5,1071.7 699.7,1108.3 699,1130C698.3,1151.7 697.3,1171.7 697,1180" stroke-width="2.4"/>
<path d="M621,760C621.2,771.7 621.2,810 622,830C622.8,850 625.3,871.7 626,880" stroke-width="2.1"/>
<path d="M747,760C746.8,771.7 746.8,810 746,830C745.2,850 742.7,871.7 742,880" stroke-width="2.1"/>
<path d="M605,780C604.2,788.3 600.8,821.7 600,830" stroke-width="2.1"/>
<path d="M763,780C763.8,788.3 767.2,821.7 768,830" stroke-width="2.1"/>
<path d="M648,770C650,780 656.7,808.3 660,830C663.3,851.7 666.7,888.3 668,900" stroke-width="2.1"/>
<path d="M720,770C718,780 711.3,808.3 708,830C704.7,851.7 701.3,888.3 700,900" stroke-width="2.1"/>
<path d="M645,1200C640.8,1205 626.8,1221.7 620,1230C613.2,1238.3 606.7,1246.7 604,1250" stroke-width="1.9"/>
<path d="M723,1200C727.2,1205 741.2,1221.7 748,1230C754.8,1238.3 761.3,1246.7 764,1250" stroke-width="1.9"/>
<path d="M660,1210C658.3,1215 654,1230.8 650,1240C646,1249.2 638.3,1260.8 636,1265" stroke-width="1.9"/>
<path d="M708,1210C709.7,1215 714,1230.8 718,1240C722,1249.2 729.7,1260.8 732,1265" stroke-width="1.9"/>
<path d="M600,1238C603.3,1237 613.3,1233 620,1232C626.7,1231 633.3,1231 640,1232C646.7,1233 656.7,1237 660,1238" stroke-width="1.4"/>
<path d="M768,1238C764.7,1237 754.7,1233 748,1232C741.3,1231 734.7,1231 728,1232C721.3,1233 711.3,1237 708,1238" stroke-width="1.4"/>
</g>

<defs><radialGradient id="bg" cx="0.45" cy="0.4" r="0.65"><stop offset="0" stop-color="#fbe7b2"/><stop offset="0.7" stop-color="#f4d590"/><stop offset="1" stop-color="#e9b868"/></radialGradient></defs>
<path d="M638,205 C636,185 655,168 684,166 C712,165 735,180 737,202 C738,214 732,222 724,226 C712,232 700,236 688,236 C672,236 660,236 650,232 C642,226 639,216 638,205Z" fill="url(#bg)" stroke="#9a7436" stroke-width="1.1"/>
<path d="M646,232 C652,228 668,228 678,232 C682,239 678,247 668,248.5 C657,249.5 648,245 646,239Z" fill="#f0cf88" stroke="#9a7436" stroke-width="0.8"/>
<g fill="none" stroke="#8d6a30" stroke-width="0.8">
<path d="M652,178 C658,186 648,192 655,200 C662,206 652,214 660,222"/>
<path d="M666,170 C664,180 673,186 668,195 C664,203 672,210 669,218"/>
<path d="M684,168 C682,176 690,182 686,192 C682,200 692,206 688,216"/>
<path d="M700,168 C704,178 696,186 702,194 C708,202 700,210 706,220"/>
<path d="M716,172 C720,182 712,190 720,200 C726,208 718,216 724,224"/>
<path d="M728,184 C726,194 734,200 730,212"/>
<path d="M642,200 C652,196 662,204 674,200 C686,196 696,206 708,202 C718,198 726,206 734,204"/>
<path d="M646,216 C656,212 668,220 680,216 C692,212 704,222 716,218"/>
<path d="M662,186 C672,182 680,190 692,186 C702,182 712,190 722,188"/>
<path d="M649,236 H676 M649.5,240.5 H677 M652,245 H674"/>
</g>
<path d="M679,234 L693,234 L692.5,300 L691.5,480 Q690.5,540 685.5,556 Q681,540 680.5,480 L680,300 Z" fill="#f3d491" stroke="#8d7040" stroke-width="0.9"/>
<path d="M686,240 L686,550" stroke="#8d7040" stroke-width="0.6"/>
<path d="M678.5,556 L691,556 L689,655 L681,655 Z" fill="#659ecf"/>

<g fill="#1a1a1a"><path d="M485.5,800 L483.5,818 L486,814 Z"/><path d="M501.5,800 L500,818 L502.5,812 Z"/><path d="M519,800 L518,815 L520.5,810 Z"/>
<path d="M882.5,800 L884.5,818 L882,814 Z"/><path d="M866.5,800 L868,818 L865.5,812 Z"/><path d="M849,800 L850,815 L847.5,810 Z"/>
<path d="M681,745 L683.5,745 L683,798 Z"/></g>
<g fill="none" stroke="#659ecf" stroke-linecap="round"><path d="M692,227 L737,225" stroke-width="4"/><path d="M693,232 L726,236" stroke-width="3.2"/><path d="M694,236 L712,241" stroke-width="3"/><path d="M700,224 C712,218 724,214 734,208" stroke-width="1.6"/></g>

<g font-family="Liberation Sans, sans-serif" font-size="10" fill="#333"><text x="676" y="276" text-anchor="end">1</text>
<text x="676" y="286" text-anchor="end">2</text>
<text x="676" y="296" text-anchor="end">3</text>
<text x="676" y="305" text-anchor="end">4</text>
<text x="676" y="315" text-anchor="end">5</text>
<text x="676" y="325" text-anchor="end">6</text>
<text x="676" y="336" text-anchor="end">7</text>
<text x="676" y="347" text-anchor="end">8</text>
<text x="676" y="354" text-anchor="end">1</text>
<text x="676" y="368" text-anchor="end">2</text>
<text x="676" y="382" text-anchor="end">3</text>
<text x="676" y="396" text-anchor="end">4</text>
<text x="676" y="411" text-anchor="end">5</text>
<text x="676" y="425" text-anchor="end">6</text>
<text x="676" y="440" text-anchor="end">7</text>
<text x="676" y="454" text-anchor="end">8</text>
<text x="676" y="468" text-anchor="end">9</text>
<text x="676" y="483" text-anchor="end">10</text>
<text x="676" y="497" text-anchor="end">11</text>
<text x="676" y="511" text-anchor="end">12</text>
<text x="676" y="531" text-anchor="end">1</text>
<text x="676" y="548" text-anchor="end">2</text>
<text x="676" y="566" text-anchor="end">3</text>
<text x="676" y="583" text-anchor="end">4</text>
<text x="676" y="601" text-anchor="end">5</text>
<text x="676" y="616" text-anchor="end">1</text>
<text x="676" y="631" text-anchor="end">2</text>
<text x="676" y="646" text-anchor="end">3</text>
<text x="676" y="661" text-anchor="end">4</text></g>
<g fill="none" stroke="#111" stroke-width="2.2"><polyline points="687,207.8 745.9,216.8"/>
<polyline points="722.3,253.7 755.3,262.6"/>
<polyline points="789,611.5 848,571"/>
<polyline points="722.7,657.5 777,620.7"/>
<polyline points="725.5,713.8 788.1,744.6"/>
<polyline points="705.4,849.6 780.7,851.7"/>
<polyline points="830.5,765.4 898.4,799.3"/>
<polyline points="722.4,1050.2 767.3,1014"/></g>
<g fill="none" stroke="#444" stroke-width="1.4"><polyline points="567.9,352.5 623.1,352.2"/>
<polyline points="560.1,358.4 617.7,358.4"/>
<polyline points="533.3,533.7 586.3,533.7"/>
<polyline points="533.3,538.7 586.3,538.7"/>
<polyline points="592.7,533.7 623.8,533.7"/>
<polyline points="592.7,538.7 623.8,538.7"/>
<polyline points="510,652.8 570.7,652.8"/>
<polyline points="582,652.8 611.8,652.8"/></g>
<!-- brain diagram -->

<g filter="url(#blur6)"><path d="M1174,441 L1007.1,602.2 A232,232 0 1 1 1340.9,602.2 Z" fill="#f7e0f8"/></g>
<path d="M1174,444 L1029.5,567.4 A190,190 0 1 1 1318.5,567.4 Z" fill="#de5db9"/>
<path d="M1174,444 L1059.9,541.4 A150,150 0 1 1 1288.1,541.4 Z" fill="#c2465a"/>
<path d="M1174,444 L1061.8,539.8 A147.5,147.5 0 1 1 1286.2,539.8 Z" fill="#e79e50"/>
<circle cx="1172" cy="445" r="101" fill="#fdf6dc"/>
<path d="M1172,351.5 A97,97 0 1 0 1172,545.5 A97,97 0 1 0 1172,351.5Z" fill="#74789c"/>
<path d="M1096,508 L1248,508 L1219.5,547 L1127,547 Z" fill="#74789c"/>
<g fill="none" stroke="#4d3c3c" stroke-width="2.4" opacity="0.75"><path d="M1075.4,457 A97,97 0 0 0 1097.7,510.9"/><path d="M1268.6,457 A97,97 0 0 1 1246.3,510.9"/></g>
<path d="M1134,554 L1214.7,554 Q1206,566 1205.5,590 L1204,670.7 L1141.3,670.7 L1141.3,590 Q1141,566 1134,554Z" fill="#74789c"/>
<rect x="1140" y="680.3" width="64" height="168.4" fill="#74789c"/>
<g stroke="#2a2d4a" stroke-width="2" fill="#1c1f3c">
<line x1="1278" y1="246.4" x2="1428" y2="245.2"/><circle cx="1278" cy="246.4" r="4.5"/>
<line x1="1333.7" y1="409.6" x2="1428" y2="409.6"/><circle cx="1333.7" cy="409.6" r="4.5"/>
<line x1="1290.2" y1="470" x2="1428" y2="471"/><circle cx="1290.2" cy="470" r="4.5"/>
<line x1="1175" y1="642.6" x2="1454" y2="642.6"/><circle cx="1175" cy="642.6" r="4.5"/>
<line x1="1177.4" y1="727.4" x2="1455" y2="728.2"/><circle cx="1177.4" cy="727.4" r="4.5"/>
</g>
<path d="M1536,394.5 H1549 V487.5 H1536" fill="none" stroke="#34404e" stroke-width="2.5"/>

<!-- synapse -->

<rect x="962" y="890" width="562" height="365" fill="#d1e3f7"/>
<g clip-path="url(#synclip)"><ellipse cx="1242.6" cy="922" rx="198.7" ry="153" fill="#fff"/></g>
<circle cx="1154.7" cy="1056.2" r="31" fill="#d1e3f7"/>
<circle cx="1330.4" cy="1056.2" r="31" fill="#d1e3f7"/>
<path d="M1030.8,1255 L1014.8,1136 C1012,1116 1028,1104 1046,1106.4 A485,485 0 0 0 1437.6,1106.4 C1456,1104 1472,1116 1469.6,1136 L1454.4,1255 Z" fill="#fff"/>
<circle cx="1154.1" cy="974.7" r="25" fill="#f7e0a0"/>
<circle cx="1154.1" cy="974.7" r="6" fill="#f0b92e"/>
<circle cx="1154.1" cy="958.7" r="6" fill="#f0b92e"/>
<circle cx="1154.1" cy="990.7" r="6" fill="#f0b92e"/>
<circle cx="1140.1" cy="966.7" r="6" fill="#f0b92e"/>
<circle cx="1168.1" cy="966.7" r="6" fill="#f0b92e"/>
<circle cx="1140.1" cy="982.7" r="6" fill="#f0b92e"/>
<circle cx="1168.1" cy="982.7" r="6" fill="#f0b92e"/>
<circle cx="1242.9" cy="1009.6" r="25" fill="#f7e0a0"/>
<circle cx="1242.9" cy="1009.6" r="6" fill="#f0b92e"/>
<circle cx="1242.9" cy="993.6" r="6" fill="#f0b92e"/>
<circle cx="1242.9" cy="1025.6" r="6" fill="#f0b92e"/>
<circle cx="1228.9" cy="1001.6" r="6" fill="#f0b92e"/>
<circle cx="1256.9" cy="1001.6" r="6" fill="#f0b92e"/>
<circle cx="1228.9" cy="1017.6" r="6" fill="#f0b92e"/>
<circle cx="1256.9" cy="1017.6" r="6" fill="#f0b92e"/>
<circle cx="1331.1" cy="974.7" r="25" fill="#f7e0a0"/>
<circle cx="1331.1" cy="974.7" r="6" fill="#f0b92e"/>
<circle cx="1331.1" cy="958.7" r="6" fill="#f0b92e"/>
<circle cx="1331.1" cy="990.7" r="6" fill="#f0b92e"/>
<circle cx="1317.1" cy="966.7" r="6" fill="#f0b92e"/>
<circle cx="1345.1" cy="966.7" r="6" fill="#f0b92e"/>
<circle cx="1317.1" cy="982.7" r="6" fill="#f0b92e"/>
<circle cx="1345.1" cy="982.7" r="6" fill="#f0b92e"/>
<circle cx="1154.9" cy="1053.6" r="6" fill="#f0b92e"/>
<circle cx="1101.3" cy="1067.2" r="6" fill="#f0b92e"/>
<circle cx="1139.2" cy="1086.7" r="6" fill="#f0b92e"/>
<circle cx="1182.1" cy="1080.8" r="6" fill="#f0b92e"/>
<circle cx="1213.3" cy="1095.2" r="6" fill="#f0b92e"/>
<circle cx="1243.2" cy="1084.8" r="6" fill="#f0b92e"/>
<circle cx="1281.3" cy="1083.2" r="6" fill="#f0b92e"/>
<circle cx="1319.5" cy="1086.7" r="6" fill="#f0b92e"/>
<circle cx="1335.7" cy="1059.5" r="6" fill="#f0b92e"/>
<circle cx="1372.3" cy="1072.8" r="6" fill="#f0b92e"/>
<g stroke="#4447b5" stroke-width="17" stroke-linecap="round"><line x1="1094.3" y1="1115.5" x2="1089.8" y2="1139"/><line x1="1165" y1="1128.5" x2="1162" y2="1152.5"/><line x1="1235.6" y1="1132.5" x2="1235.6" y2="1156.3"/><line x1="1306.2" y1="1128.5" x2="1309.2" y2="1152.5"/><line x1="1377" y1="1115.5" x2="1381.5" y2="1139"/></g>
<line x1="1082.7" y1="1054.4" x2="1100.5" y2="1066.2" stroke="#666" stroke-width="1.5"/>

</svg>
<div class="t ti u" style="left:67.5px;top:40.5px;--w:979.5px;font-size:30px;line-height:30px">Swcounsel Chart_A2_v250529 : 문제에 대한 신체반응과 정신과 약물과의 관계</div>
<div class="t" style="left:80px;top:150px;--w:91.7px;font-size:22px;line-height:22px">*신체문제</div>
<div class="t u" style="left:80px;top:182px;--w:145px;font-size:22px;line-height:22px">1 피부계,골격계</div>
<div class="t" style="left:80px;top:214px;--w:184.7px;font-size:22px;line-height:22px">피부, 모발, 피하지방</div>
<div class="t" style="left:80px;top:246px;--w:229.7px;font-size:22px;line-height:22px">뼈, 관절, 연골, 인대, 힘줄</div>
<div class="t u" style="left:80px;top:356px;--w:150.8px;font-size:22px;line-height:22px">2 근육계, 신경계</div>
<div class="t" style="left:80px;top:388px;--w:256.9px;font-size:22px;line-height:22px">근육, 골격근, 내장근, 심장근</div>
<div class="t" style="left:80px;top:420px;--w:264.3px;font-size:22px;line-height:22px">중추신경, 말초신경, 감각기관</div>
<div class="t u" style="left:80px;top:546.5px;--w:150.8px;font-size:22px;line-height:22px">3 순환계, 호흡계</div>
<div class="t" style="left:80px;top:578.5px;--w:144.4px;font-size:22px;line-height:22px">심장, 혈관, 혈액</div>
<div class="t" style="left:80px;top:610.5px;--w:228.2px;font-size:22px;line-height:22px">코, 인두, 후두, 기관지, 폐</div>
<div class="t u" style="left:80px;top:736.8px;--w:150.8px;font-size:22px;line-height:22px">4 소화계, 림프계</div>
<div class="t" style="left:80px;top:768.8px;--w:197.5px;font-size:22px;line-height:22px">입, 식도, 위, 십이지장</div>
<div class="t" style="left:80px;top:800.8px;--w:184.8px;font-size:22px;line-height:22px">림프관, 림프절, 비장</div>
<div class="t u" style="left:80px;top:926.5px;--w:169.9px;font-size:22px;line-height:22px">5 면역계, 내분비계</div>
<div class="t" style="left:80px;top:958.5px;--w:245.2px;font-size:22px;line-height:22px">백혈구, 편도선, 아데노이드</div>
<div class="t" style="left:80px;top:990.5px;--w:204.9px;font-size:22px;line-height:22px">뇌하수체, 갑상샘, 췌장</div>
<div class="t u" style="left:80px;top:1117px;--w:150.6px;font-size:22px;line-height:22px">6 비뇨계, 생식계</div>
<div class="t" style="left:80px;top:1149px;--w:144.7px;font-size:22px;line-height:22px">콩팥, 방광, 요도</div>
<div class="t" style="left:80px;top:1181px;--w:164.5px;font-size:22px;line-height:22px">생식기, 유방, 자궁</div>
<div class="t" style="left:1583px;top:113.5px;--w:118.3px;font-size:22px;line-height:22px">*정신과 약물</div>
<div class="t u" style="left:1583px;top:145.5px;--w:282.5px;font-size:22px;line-height:22px">1 항 <b>정</b>신용제약물: 도파민 억제</div>
<div class="t" style="left:1583px;top:177.5px;--w:325px;font-size:22px;line-height:22px"><b>아</b>빌리파이. <b>할</b>로페리돌, <b>리</b>스페리돈</div>
<div class="t" style="left:1583px;top:209.5px;--w:229.3px;font-size:22px;line-height:22px"><b>리</b>페리돈, <b>인</b>베가, <b>세</b>로퀼,</div>
<div class="t" style="left:1583px;top:241.5px;--w:270.3px;font-size:22px;line-height:22px"><b>설</b>피리드, <b>올</b>란자핀, <b>클</b>로자핀,</div>
<div class="t" style="left:1583px;top:273.5px;--w:192.8px;font-size:22px;line-height:22px"><b>뉴</b>로자핀, <b>자</b>이프렉사</div>
<div class="t u" style="left:1583px;top:319px;--w:288.5px;font-size:22px;line-height:22px">2 항 <b>우</b>울제 약물: 세로토닌 증가</div>
<div class="t" style="left:1583px;top:351px;--w:229.3px;font-size:22px;line-height:22px"><b>프</b>로작, <b>렉</b>사프로, <b>뉴</b>프람,</div>
<div class="t" style="left:1583px;top:383px;--w:294.6px;font-size:22px;line-height:22px"><b>에</b>스시탈로프람, <b>파</b>로세틴(SSRI),</div>
<div class="t" style="left:1583px;top:415px;--w:229.3px;font-size:22px;line-height:22px"><b>푸</b>로세틴, <b>푸</b>록틴, <b>폭</b>세틴,</div>
<div class="t" style="left:1583px;top:447px;--w:290px;font-size:22px;line-height:22px"><b>트</b>라조돈, <b>루</b>디오밀, <b>이</b>미프라민,</div>
<div class="t" style="left:1583px;top:479px;--w:83.4px;font-size:22px;line-height:22px"><b>세</b>로자트,</div>
<div class="t u" style="left:1583px;top:523px;--w:288.2px;font-size:22px;line-height:22px">3 항 <b>불</b>안제 약물: 중추신경 억제</div>
<div class="t u" style="left:1583px;top:555px;--w:74.6px;font-size:22px;line-height:22px">(GABA)</div>
<div class="t" style="left:1583px;top:587px;--w:330.6px;font-size:22px;line-height:22px"><b>벤</b>조다이아제핀, <b>알</b>프로졸람, <b>레</b>피졸,</div>
<div class="t" style="left:1583px;top:619px;--w:323.5px;font-size:22px;line-height:22px"><b>자</b>나팜, <b>디</b>아제팜, <b>로</b>라제팜, <b>아</b>티반,</div>
<div class="t" style="left:1583px;top:651px;--w:223px;font-size:22px;line-height:22px"><b>아</b>졸락, <b>자</b>낙스, <b>데</b>파스정</div>
<div class="t u" style="left:1583px;top:711px;--w:282.5px;font-size:22px;line-height:22px">4 항 <b>조</b>증제 약물: 신경전달물질</div>
<div class="t u" style="left:1583px;top:743px;--w:269.8px;font-size:22px;line-height:22px">재흡수 억제, 심박수 혈압 안정</div>
<div class="t" style="left:1583px;top:775px;--w:241.5px;font-size:22px;line-height:22px"><b>리</b>튬, <b>인</b>데놀, <b>리</b>단, <b>리</b>치온,</div>
<div class="t u" style="left:1583px;top:854px;--w:317.9px;font-size:22px;line-height:22px">5 항 <b>전</b>간제(뇌전증): 신경활동 억제</div>
<div class="t" style="left:1583px;top:886px;--w:269.8px;font-size:22px;line-height:22px"><b>라</b>믹탈, <b>클</b>로나제팜, <b>리</b>보트릴,</div>
<div class="t" style="left:1583px;top:918px;--w:323.5px;font-size:22px;line-height:22px"><b>카</b>바마제핀, <b>발</b>프로익산, <b>라</b>모트리진</div>
<div class="t u" style="left:1583px;top:979.5px;--w:298px;font-size:22px;line-height:22px">6 <b>행</b>동장애 ADHD:도파민 재흡수</div>
<div class="t u" style="left:1583px;top:1011.5px;--w:38.7px;font-size:22px;line-height:22px">억제</div>
<div class="t" style="left:1583px;top:1043.5px;--w:289.6px;font-size:22px;line-height:22px"><b>메</b>틸페니데이트, <b>리</b>탈린, <b>콘</b>서타,</div>
<div class="t" style="left:1583px;top:1075.5px;--w:150px;font-size:22px;line-height:22px"><b>페</b>니드, <b>암</b>페타민</div>
<div class="t u" style="left:1583px;top:1137px;--w:170px;font-size:22px;line-height:22px">7 <b>수</b>면장애 :진정제</div>
<div class="t" style="left:1583px;top:1169px;--w:230.2px;font-size:22px;line-height:22px"><b>스</b>틸녹스, <b>졸</b>피뎀, <b>루</b>나팜,</div>
<div class="t" style="left:1583px;top:1201px;--w:139.7px;font-size:22px;line-height:22px"><b>플</b>루니트라제팜</div>
<div class="t" style="left:636.8px;top:115.7px;--w:109.2px;font-size:25px;line-height:25px;font-weight:bold">인체신경계</div>
<div class="t k" style="left:1076.5px;top:119.6px;--w:181.5px;font-size:34px;line-height:34px;color:#1c1c1c">구조 모식도</div>
<div class="t k" style="left:1433.6px;top:228.8px;--w:96.9px;font-size:32px;line-height:32px;color:#2a2a2a">신피질</div>
<div class="t k" style="left:1419.6px;top:338.5px;--w:130.2px;font-size:32px;line-height:32px;color:#2a2a2a">변연피질</div>
<div class="t k" style="left:1431px;top:396.2px;--w:98px;font-size:32px;line-height:32px;color:#2a2a2a">고피질</div>
<div class="t k" style="left:1431px;top:456.9px;--w:98px;font-size:32px;line-height:32px;color:#2a2a2a">구피질</div>
<div class="t k" style="left:1461.2px;top:631.2px;--w:66.1px;font-size:32px;line-height:32px;color:#2a2a2a">뇌간</div>
<div class="t k" style="left:1462.4px;top:712.4px;--w:64.9px;font-size:32px;line-height:32px;color:#2a2a2a">척수</div>
<div class="t" style="left:1105.5px;top:417.5px;--w:135.2px;font-size:34px;line-height:34px;color:#14162c;font-weight:bold">시상하부</div>
<div class="t" style="left:1111px;top:463.5px;--w:124px;font-size:34px;line-height:34px;color:#ffffff">쾌락중추</div>
<div class="t" style="left:1169px;top:913.2px;--w:163px;font-size:14px;line-height:14px;color:#222">세로토닌, 아드레날린, 도파민</div>
<div class="t" style="left:1206px;top:946.5px;--w:74px;font-size:14px;line-height:14px;color:#e5ad2e;font-weight:bold">신경전달물질</div>
<div class="t" style="left:990px;top:1024.3px;--w:48px;font-size:14px;line-height:14px;color:#6d6d6d">세로토닌</div>
<div class="t" style="left:990px;top:1042.8px;--w:84px;font-size:14px;line-height:14px;color:#6d6d6d">노르에피네프린</div>
<div class="t" style="left:990px;top:1061.2px;--w:35.5px;font-size:14px;line-height:14px;color:#6d6d6d">도파민</div>
<div class="t" style="left:1220.4px;top:1185.4px;--w:36px;font-size:14px;line-height:14px;color:#222">수용체</div>
<div class="t" style="left:1163.6px;top:1229.8px;--w:161.2px;font-size:14px;line-height:14px;color:#222">세로토닌, 아드레날린, 도파민</div>
<svg width="2000" height="1414" viewBox="0 0 2000 1414" style="pointer-events:none">
<g fill="none" stroke="#1414f0" stroke-width="1.6" stroke-linejoin="miter">
<polyline points="684.9,193.5 1054.8,402.2"/>
<polyline points="684.9,193.5 709.8,200.7"/>
<polyline points="684.9,193.5 730.5,399.8"/>
<polyline points="676.4,198.3 663.1,218.4"/>
<polyline points="674.3,198.8 717,472"/>
<polyline points="231.9,560.7 731.4,411.7"/>
<polyline points="737.3,405.8 730.2,428.7"/>
<polyline points="234,750.8 727.2,477"/>
<polyline points="727.2,477 721.2,497.4"/>
<polyline points="75.3,599.3 116.9,602.7"/>
<polyline points="164,787.9 197.5,789.6"/>
<polyline points="1592.5,324.7 1274.2,358 1298.9,364.6"/>
<polyline points="1582,337 1046.7,1027.1 1045,1011.3"/>
<polyline points="1267.5,512 1272.6,490.5 1581,1141"/>
<polyline points="1053,1033.3 1040,1036.2 1581,1144"/>
<polyline points="982.4,1040.5 1048.8,1038.7"/>
<polyline points="1022.3,1041 1082.8,1105.6"/>
<polyline points="1074,1102.4 1090,1106.4"/>
<polyline points="1026.5,1066.5 1028.5,1068.5 1030,1068"/>
</g>
</svg>
<script>
(function(){
  var els=document.querySelectorAll('.t');
  for(var i=0;i<els.length;i++){
    var e=els[i];
    var w=parseFloat(e.style.getPropertyValue('--w'));
    var a=e.getBoundingClientRect().width;
    if(w>0&&a>0){e.style.transform='scaleX('+(w/a).toFixed(4)+')';}
  }
})();
</script>
</body></html>
